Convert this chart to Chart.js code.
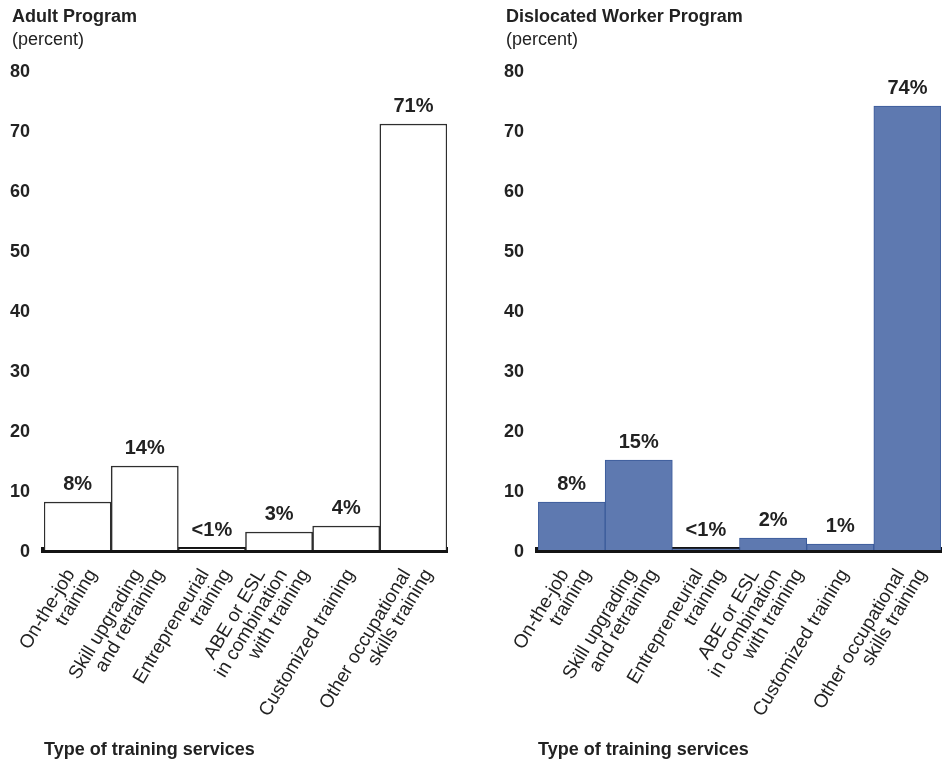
<!DOCTYPE html>
<html>
<head>
<meta charset="utf-8">
<script src="https://cdn.jsdelivr.net/npm/chart.js@4/dist/chart.umd.min.js"></script>
<style>
  html, body { margin: 0; padding: 0; background: #ffffff; }
  #wrap { position: relative; width: 949px; height: 764px; overflow: hidden; }
  .box { position: absolute; top: 0; height: 764px; }
</style>
</head>
<body>
<div id="wrap">
  <div class="box" style="left:0;width:474px;"><canvas id="c1"></canvas></div>
  <div class="box" style="left:474px;width:475px;"><canvas id="c2"></canvas></div>
</div>
<script>
// ---- data ----
const categories = [
  ["On-the-job", "training"],
  ["Skill upgrading", "and retraining"],
  ["Entrepreneurial", "training"],
  ["ABE or ESL", "in combination", "with training"],
  ["Customized training"],
  ["Other occupational", "skills training"]
];
const adultValues = [8, 14, 0.2, 3, 4, 71];
const adultLabels = ["8%", "14%", "<1%", "3%", "4%", "71%"];
const dislocatedValues = [8, 15, 0.2, 2, 1, 74];
const dislocatedLabels = ["8%", "15%", "<1%", "2%", "1%", "74%"];
const yTicks = [0, 10, 20, 30, 40, 50, 60, 70, 80];
const xAxisTitle = "Type of training services";
const adultTitle = "Adult Program";
const dislocatedTitle = "Dislocated Worker Program";
const unitLabel = "(percent)";

const FONT = "'Liberation Sans', Arial, Helvetica, sans-serif";
const TEXT = "#222222";
Chart.defaults.font.family = FONT;
Chart.defaults.color = TEXT;

const headerPlugin = {
  id: 'header',
  afterDraw(chart, args, opts) {
    const ctx = chart.ctx;
    ctx.save();
    ctx.fillStyle = TEXT;
    ctx.textAlign = 'left';
    ctx.textBaseline = 'middle';
    ctx.font = "bold 18px " + FONT;
    ctx.fillText(opts.title, opts.x, 17);
    ctx.font = "18px " + FONT;
    ctx.fillText(opts.unit, opts.x, 40);
    ctx.restore();
  }
};

const valueLabelPlugin = {
  id: 'valueLabels',
  afterDatasetsDraw(chart, args, opts) {
    const ctx = chart.ctx;
    const meta = chart.getDatasetMeta(0);
    ctx.save();
    ctx.font = "bold 20px " + FONT;
    ctx.fillStyle = TEXT;
    ctx.textAlign = 'center';
    ctx.textBaseline = 'middle';
    meta.data.forEach((bar, i) => {
      ctx.fillText(opts.labels[i], bar.x, bar.y - 18);
    });
    ctx.restore();
  }
};

const catLabelPlugin = {
  id: 'catLabels',
  afterDraw(chart) {
    const ctx = chart.ctx;
    const xs = chart.scales.x;
    const ang = -59 * Math.PI / 180;
    const y0 = chart.chartArea.bottom + 16;
    const dx = 22;
    ctx.save();
    ctx.font = "19px " + FONT;
    ctx.fillStyle = TEXT;
    ctx.textAlign = 'right';
    ctx.textBaseline = 'top';
    categories.forEach((lines, i) => {
      const xc = xs.getPixelForValue(i) - 4;
      const n = lines.length;
      lines.forEach((ln, j) => {
        const ex = xc + (j - (n - 1) / 2) * dx;
        ctx.save();
        ctx.translate(ex, y0);
        ctx.rotate(ang);
        ctx.fillText(ln, 0, 0);
        ctx.restore();
      });
    });
    ctx.restore();
  }
};

function makeChart(id, title, titleX, values, labels, fill, border, bw, padRight, yAxisWidth) {
  return new Chart(document.getElementById(id), {
    type: 'bar',
    data: {
      labels: categories.map(c => c.join(' ')),
      datasets: [{
        data: values,
        backgroundColor: fill,
        borderColor: border,
        borderWidth: bw,
        categoryPercentage: 1.0,
        barPercentage: 1.0
      }]
    },
    options: {
      responsive: true,
      maintainAspectRatio: false,
      animation: false,
      events: [],
      layout: { padding: { left: 0, right: padRight, top: 70, bottom: 0 } },
      plugins: {
        legend: { display: false },
        tooltip: { enabled: false },
        title: { display: false },
        header: { title: title, unit: unitLabel, x: titleX },
        valueLabels: { labels: labels }
      },
      scales: {
        x: {
          z: 1,
          grid: { display: false, drawTicks: false },
          border: { display: true, color: '#141414', width: 6 },
          ticks: { display: false },
          title: {
            display: true, text: xAxisTitle, align: 'start', color: TEXT,
            font: { size: 18, weight: 'bold', lineHeight: 1.2 },
            padding: { top: 0, bottom: 3 }
          },
          afterFit(s) { s.height = 214; }
        },
        y: {
          min: 0, max: 80,
          grid: { display: false, drawTicks: false },
          border: { display: false },
          afterBuildTicks(s) { s.ticks = yTicks.map(v => ({ value: v })); },
          ticks: {
            padding: 14, color: TEXT, labelOffset: 2,
            font: { size: 18, weight: 'bold' }
          },
          afterFit(s) { s.width = yAxisWidth; }
        }
      }
    },
    plugins: [valueLabelPlugin, catLabelPlugin, headerPlugin]
  });
}

makeChart('c1', adultTitle, 12, adultValues, adultLabels, '#ffffff', '#2e2e2e', 1.5, 27, 44);
makeChart('c2', dislocatedTitle, 32, dislocatedValues, dislocatedLabels, '#5e79b0', '#3a5a9a', 1, 8, 64);
</script>
</body>
</html>
